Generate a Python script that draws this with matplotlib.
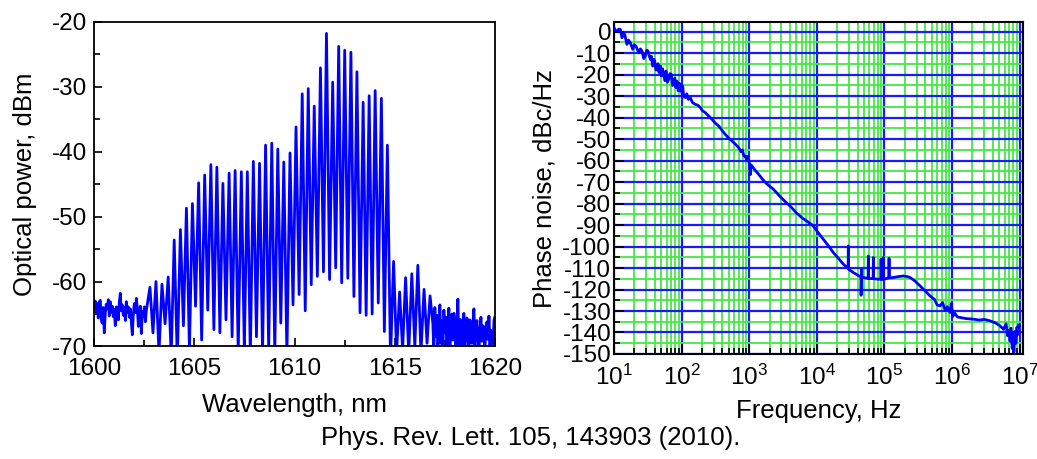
import numpy as np
import matplotlib
matplotlib.use("Agg")
import matplotlib.pyplot as plt
from matplotlib.ticker import MultipleLocator, LogLocator, NullFormatter, LogFormatterSciNotation

plt.rcParams['font.family'] = ['Liberation Sans', 'DejaVu Sans']
plt.rcParams['mathtext.fontset'] = 'custom'
plt.rcParams['mathtext.rm'] = 'Liberation Sans'
plt.rcParams['mathtext.it'] = 'Liberation Sans:italic'
plt.rcParams['mathtext.default'] = 'regular'
plt.rcParams['axes.unicode_minus'] = False

# ---------------- optical spectrum of the comb ----------------
# noise floor on the short-wavelength side (1600.0 - 1602.6 nm)
floor_left_db = [-64.1, -63.0, -64.8, -63.4, -65.6, -63.2, -62.9, -65.9, -66.4, -64.0,
                 -67.9, -64.9, -63.5, -64.2, -62.8, -65.3, -63.1, -64.7, -63.8, -65.4,
                 -64.3, -66.8, -63.9, -64.6, -65.9, -63.2, -61.8, -64.5, -63.6, -65.2,
                 -64.0, -66.0, -63.1, -64.7, -63.9, -65.5, -64.2, -66.3, -68.2, -65.0,
                 -63.4, -64.8, -62.6, -64.1, -66.9, -65.2, -63.8, -68.0, -64.6, -65.3,
                 -63.9, -66.2, -64.4]
floor_left_range = (1600.0, 1602.6)

# comb lines: wavelength, peak power, and the trough that follows each line
comb_wl = [1602.78, 1603.08, 1603.38, 1603.69, 1603.99, 1604.30, 1604.60, 1604.90,
           1605.21, 1605.51, 1605.82, 1606.12, 1606.42, 1606.73, 1607.03, 1607.34,
           1607.64, 1607.94, 1608.25, 1608.55, 1608.86, 1609.16, 1609.46, 1609.77,
           1610.07, 1610.38, 1610.68, 1610.98, 1611.29, 1611.59, 1611.90, 1612.20,
           1612.50, 1612.81, 1613.11, 1613.42, 1613.72, 1614.02, 1614.33, 1614.63,
           1614.94, 1615.24, 1615.54, 1615.85, 1616.15, 1616.46, 1616.76]
comb_peak = [-60.9, -60.0, -60.4, -59.3, -53.6, -52.0, -48.7, -48.0,
             -44.8, -43.6, -42.0, -42.4, -44.9, -43.3, -42.9, -43.1,
             -43.1, -41.5, -41.8, -39.0, -38.7, -39.6, -41.6, -40.2,
             -36.2, -31.1, -30.3, -33.0, -27.1, -21.8, -29.3, -23.8,
             -24.4, -24.7, -27.7, -32.4, -31.4, -30.6, -31.8, -39.0,
             -56.9, -61.6, -59.4, -58.8, -57.5, -61.2, -62.2]
comb_trough = [-67.9, -71.0, -66.5, -71.5, -72.0, -66.8, -70.5, -63.8,
               -69.0, -64.4, -67.4, -67.9, -65.9, -68.5, -71.0, -70.5,
               -71.5, -68.5, -71.0, -70.5, -71.0, -66.4, -71.5, -63.6,
               -62.0, -64.5, -60.5, -59.2, -58.5, -59.7, -57.9, -60.2,
               -59.5, -62.3, -64.8, -65.2, -65.0, -63.3, -67.7, -72.0,
               -71.0, -70.5, -71.0, -70.0, -71.0, -69.5]

# noise floor on the long-wavelength side (1616.9 - 1620.0 nm)
floor_right_db = [-66.5, -71.0, -64.0, -68.5, -65.2, -70.8, -67.0, -63.6, -69.5, -66.0,
                  -71.0, -64.4, -67.8, -65.5, -70.5, -66.8, -64.1, -71.0, -67.2, -65.0,
                  -69.0, -64.9, -68.0, -71.0, -66.3, -62.7, -69.8, -65.8, -67.5, -71.0,
                  -66.0, -64.9, -70.2, -67.9, -65.6, -68.8, -71.0, -65.9, -67.0, -69.5,
                  -66.6, -64.2, -70.0, -67.3, -66.0, -68.5, -71.0, -67.4, -65.5, -69.2,
                  -66.8, -68.0, -70.5, -67.0, -66.2, -68.9, -65.3, -69.8, -67.5, -68.2,
                  -71.0, -66.0, -65.4]
floor_right_range = (1616.9, 1620.0)

# ---------------- phase noise ----------------
pn_log_f = [1.000, 1.020, 1.044, 1.070, 1.093, 1.118, 1.140, 1.158, 1.192, 1.215,
            1.241, 1.277, 1.300, 1.325, 1.365, 1.390, 1.414, 1.440, 1.463, 1.485,
            1.503, 1.537, 1.555, 1.572, 1.590, 1.602, 1.620, 1.636, 1.650, 1.665,
            1.685, 1.700, 1.718, 1.735, 1.752, 1.769, 1.790, 1.809, 1.828, 1.848,
            1.865, 1.883, 1.900, 1.915, 1.932, 1.950, 1.965, 1.981, 1.995, 2.010,
            2.016, 2.030, 2.055, 2.075, 2.100, 2.129, 2.160, 2.203, 2.240, 2.277,
            2.310, 2.351, 2.400, 2.450, 2.500, 2.549, 2.600, 2.646, 2.700, 2.746,
            2.800, 2.845, 2.880, 2.900, 2.920, 2.942, 2.960, 2.975, 3.000, 3.015,
            3.025, 3.041, 3.080, 3.140, 3.200, 3.260, 3.357, 3.450, 3.530, 3.604,
            3.700, 3.780, 3.850, 3.920, 3.960, 4.000, 4.050, 4.096, 4.170, 4.244,
            4.320, 4.392, 4.462, 4.466, 4.470, 4.540, 4.620, 4.652, 4.654, 4.660,
            4.664, 4.668, 4.688, 4.758, 4.762, 4.766, 4.832, 4.836, 4.840, 4.910,
            4.946, 4.950, 4.954, 4.980, 4.984, 4.988, 5.064, 5.068, 5.072, 5.132,
            5.200, 5.280, 5.340, 5.379, 5.450, 5.527, 5.600, 5.675, 5.740, 5.780,
            5.822, 5.860, 5.900, 5.930, 5.970, 5.990, 6.010, 6.040, 6.080, 6.118,
            6.200, 6.315, 6.400, 6.480, 6.562, 6.640, 6.710, 6.760, 6.800, 6.820,
            6.840, 6.858, 6.870, 6.890, 6.900, 6.915, 6.930, 6.945, 6.960, 6.970,
            6.985]
pn_dbc = [1.9, 0.6, 0.3, 1.2, 1.1, -2.8, -0.8, -1.3, -5.9, -3.9,
          -5.1, -8.2, -6.0, -6.7, -9.8, -8.0, -9.0, -12.5, -11.3, -8.6,
          -9.0, -12.9, -11.5, -16.0, -12.8, -13.7, -17.8, -17.5, -14.9, -18.9,
          -16.0, -20.6, -17.2, -19.9, -22.8, -18.3, -23.5, -22.2, -19.5, -19.9,
          -25.0, -24.5, -21.6, -26.0, -23.0, -27.5, -24.0, -27.6, -24.8, -29.2,
          -25.3, -30.0, -30.7, -28.9, -31.5, -30.7, -33.0, -33.8, -34.2, -35.3,
          -36.8, -37.7, -39.2, -40.8, -42.6, -43.9, -46.0, -47.8, -49.6, -50.9,
          -52.5, -54.0, -55.9, -55.0, -57.8, -57.9, -59.5, -58.0, -61.0, -66.5,
          -62.0, -62.5, -64.2, -66.4, -68.8, -70.8, -73.3, -76.5, -79.0, -81.1,
          -84.4, -86.6, -88.1, -89.7, -91.0, -92.7, -94.8, -96.6, -99.6, -102.8,
          -105.5, -108.2, -110.2, -99.7, -110.6, -112.1, -113.6, -114.0, -122.7, -114.2,
          -110.6, -114.3, -114.4, -114.8, -104.4, -114.9, -114.9, -105.1, -115.0, -115.2,
          -115.2, -105.9, -115.2, -115.2, -105.1, -115.2, -114.6, -105.5, -114.6, -114.4,
          -114.0, -113.7, -114.0, -114.4, -116.0, -118.3, -120.6, -123.0, -124.6, -127.2,
          -127.6, -126.0, -129.8, -128.0, -130.7, -126.5, -132.5, -131.0, -132.8, -133.0,
          -133.5, -133.8, -134.2, -133.9, -134.6, -135.5, -136.9, -138.5, -136.0, -141.5,
          -139.0, -144.0, -138.0, -147.5, -140.0, -149.0, -139.5, -145.0, -137.5, -141.0,
          -136.5]

TRACE = '#0000ff'
GRID_MAJOR = '#1a1aff'
GRID_MINOR = '#44e844'
FS_TICK = 17.5
FS_LABEL = 18.5

fig = plt.figure(figsize=(10.37, 4.59), dpi=100)

# ---------------- left panel ----------------
ax1 = fig.add_axes([0.0909, 0.2451, 0.3864, 0.7076])

wl_left = np.linspace(*floor_left_range, len(floor_left_db))
wl_right = np.linspace(*floor_right_range, len(floor_right_db))
wl = list(wl_left)
db = list(floor_left_db)
for i, (w, p) in enumerate(zip(comb_wl, comb_peak)):
    wl.append(w)
    db.append(p)
    if i < len(comb_trough):
        wl.append(0.5 * (w + comb_wl[i + 1]))
        db.append(comb_trough[i])
wl += list(wl_right)
db += list(floor_right_db)

ax1.plot(wl, db, color=TRACE, lw=2.0, solid_joinstyle='round')
ax1.set_xlim(1600, 1620)
ax1.set_ylim(-70, -20)
ax1.xaxis.set_major_locator(MultipleLocator(5))
ax1.xaxis.set_minor_locator(MultipleLocator(2.5))
ax1.yaxis.set_major_locator(MultipleLocator(10))
ax1.yaxis.set_minor_locator(MultipleLocator(5))
ax1.tick_params(which='both', direction='in', top=False, right=False, width=1.2,
                labelsize=FS_TICK)
ax1.tick_params(which='major', length=6, pad=5)
ax1.tick_params(which='minor', length=4)
ax1.tick_params(axis='x', which='major', pad=8)
for s in ax1.spines.values():
    s.set_linewidth(1.3)
ax1.set_xlabel('Wavelength, nm', fontsize=FS_LABEL, labelpad=10)
ax1.set_ylabel('Optical power, dBm', fontsize=FS_LABEL, labelpad=11)

# ---------------- right panel ----------------
ax2 = fig.add_axes([0.5921, 0.2288, 0.3944, 0.7227])
freq = 10.0 ** np.array(pn_log_f)
ax2.semilogx(freq, pn_dbc, color=TRACE, lw=2.0, zorder=3)
ax2.set_xlim(10, 1.12e7)
ax2.set_ylim(-150, 4.4)
ax2.xaxis.set_major_locator(LogLocator(base=10, numticks=20))
ax2.xaxis.set_minor_locator(LogLocator(base=10, subs=np.arange(2, 10), numticks=40))
ax2.xaxis.set_minor_formatter(NullFormatter())
ax2.xaxis.set_major_formatter(LogFormatterSciNotation())
ax2.yaxis.set_major_locator(MultipleLocator(10))
ax2.yaxis.set_minor_locator(MultipleLocator(5))
ax2.grid(which='minor', color=GRID_MINOR, lw=1.3, zorder=0)
ax2.grid(which='major', color=GRID_MAJOR, lw=1.6, zorder=1)
ax2.set_axisbelow(True)
ax2.tick_params(which='both', direction='in', top=False, right=False, width=1.2,
                labelsize=FS_TICK)
ax2.tick_params(which='major', length=7, pad=2)
ax2.tick_params(which='minor', length=4)
ax2.tick_params(axis='x', which='major', pad=8)
for s in ax2.spines.values():
    s.set_linewidth(1.5)
ax2.set_xlabel('Frequency, Hz', fontsize=FS_LABEL, labelpad=6)
ax2.set_ylabel('Phase noise, dBc/Hz', fontsize=FS_LABEL, labelpad=4)

fig.text(0.512, 0.02, 'Phys. Rev. Lett. 105, 143903 (2010).', fontsize=FS_LABEL,
         ha='center', va='bottom')

fig.savefig('out.png', dpi=100)
